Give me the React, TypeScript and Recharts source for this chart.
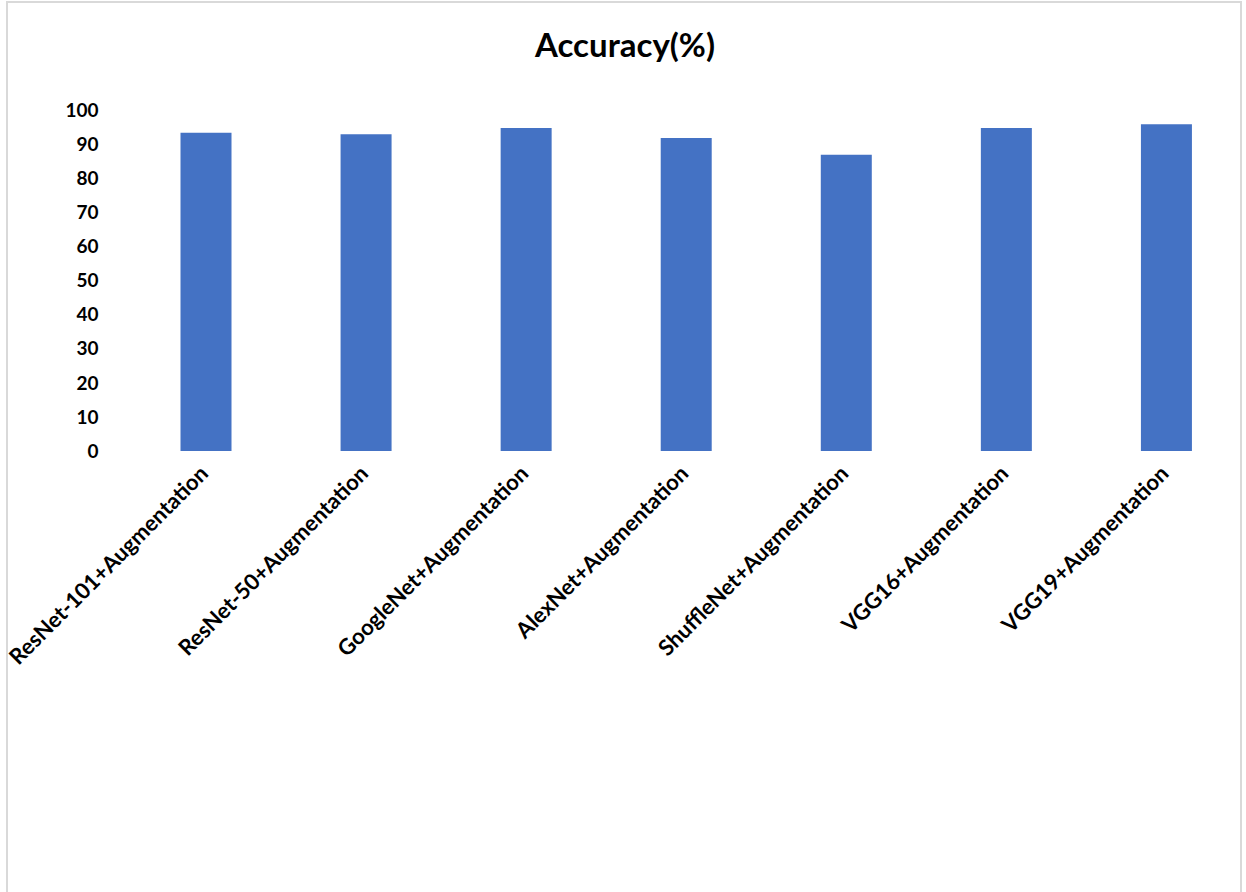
import React from "react"
import { BarChart, Bar, XAxis, YAxis } from "recharts"

const models = [
  "ResNet-101+Augmentation",
  "ResNet-50+Augmentation",
  "GoogleNet+Augmentation",
  "AlexNet+Augmentation",
  "ShuffleNet+Augmentation",
  "VGG16+Augmentation",
  "VGG19+Augmentation",
]
const accuracy = [93.3, 92.9, 94.7, 91.8, 86.9, 94.7, 95.8]
const yTicks = [0, 10, 20, 30, 40, 50, 60, 70, 80, 90, 100]

const data = models.map((name, i) => ({ name, acc: accuracy[i] }))

const FONT = "Lato, 'Open Sans', sans-serif"

const ModelTick = ({ x, y, payload }: any) => (
  <text
    x={x + 4}
    y={y}
    transform={`rotate(-45, ${x + 4}, ${y})`}
    textAnchor="end"
    fontFamily={FONT}
    fontWeight="bold"
    fontSize={22}
    fill="#000"
  >
    {payload.value}
  </text>
)

const App = () => (
  <div style={{ position: "absolute", left: 0, top: 0, width: 1246, height: 892, background: "#fff", overflow: "hidden" }}>
    <div
      style={{
        position: "absolute",
        left: 6,
        top: 1,
        width: 1236,
        height: 900,
        border: "2px solid #d9d9d9",
        boxSizing: "border-box",
      }}
    />
    <div
      style={{
        position: "absolute",
        left: 0,
        top: 24,
        width: 1250,
        textAlign: "center",
        fontFamily: FONT,
        fontWeight: "bold",
        fontSize: 33,
        color: "#000",
      }}
    >
      Accuracy(%)
    </div>
    <div style={{ position: "absolute", left: 0, top: 0 }}>
      <BarChart width={1246} height={892} data={data} margin={{ top: 110, right: 0, bottom: 0, left: 0 }}>
        <YAxis
          width={125.5}
          domain={[0, 100]}
          ticks={yTicks}
          interval={0}
          axisLine={false}
          tickLine={false}
          tickSize={0}
          tickMargin={27}
          tick={{ fontFamily: FONT, fontWeight: "bold", fontSize: 19, fill: "#000" }}
        />
        <XAxis
          dataKey="name"
          height={441}
          interval={0}
          axisLine={false}
          tickLine={false}
          tickSize={0}
          tickMargin={24}
          tick={<ModelTick />}
        />
        <Bar dataKey="acc" fill="#4472C4" barSize={51} isAnimationActive={false} />
      </BarChart>
    </div>
  </div>
)

export default App
